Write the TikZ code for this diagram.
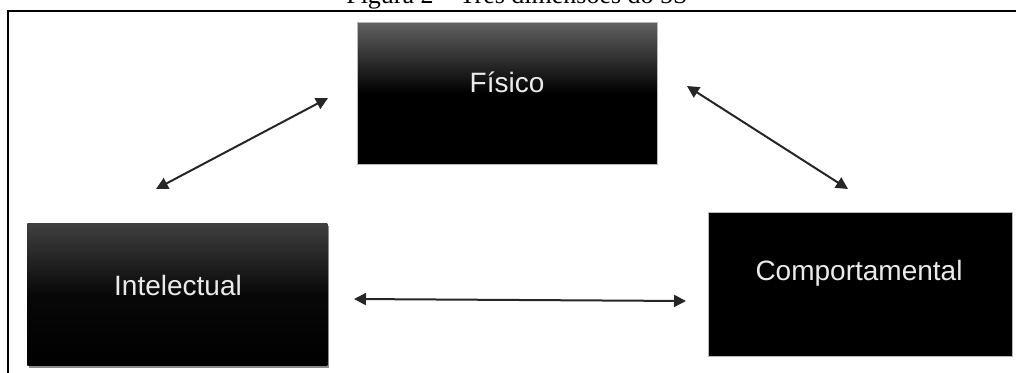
\documentclass[tikz,border=0pt]{standalone}
\usepackage{fontspec}
\setmainfont{Liberation Serif}
\newfontfamily\arialf{Liberation Sans}
\usetikzlibrary{arrows.meta,shadows}
\definecolor{arrowgray}{HTML}{262626}
\definecolor{boxedge}{HTML}{B8B8B8}
\definecolor{txtwhite}{HTML}{EAEAEA}
\begin{document}
\begin{tikzpicture}[x=1pt,y=-1pt,
  dimbox/.style={rectangle, draw=boxedge, line width=0.8pt, anchor=north west, inner sep=0pt},
  dimtext/.style={anchor=base, text=txtwhite, font=\arialf\fontsize{28}{32}\selectfont, inner sep=0pt},
  link/.style={draw=arrowgray, line width=2pt, {Triangle[length=12pt,width=12pt]}-{Triangle[length=12pt,width=12pt]}},
  frameline/.style={line width=2pt, black}
]
\useasboundingbox (0,0) rectangle (1016,372);
% title (cut off at the top, as in the reference)
\node[anchor=base, font=\fontsize{26}{30}\selectfont, inner sep=0pt] (title) at (517,4) {Figura 2 – Três dimensões do 5S};
% outer frame (only top and left edges visible)
\draw[frameline] (8,400) -- (8,11) -- (1030,11);
% boxes
\node[dimbox, minimum width=300pt, minimum height=142pt,
      top color=black!62, bottom color=black, middle color=black] (fis) at (357,22) {};
\node[dimbox, draw=none, minimum width=300pt, minimum height=142pt,
      top color=black!75, bottom color=black, middle color=black!97,
      drop shadow={shadow xshift=2pt, shadow yshift=-3pt, opacity=0.45, fill=black}] (int) at (27,223) {};
\node[dimbox, minimum width=304pt, minimum height=144pt, fill=black] (com) at (708,212) {};
% texts
\node[dimtext] (fist) at (507,92) {Físico};
\node[dimtext] (intt) at (178,295) {Intelectual};
\node[dimtext] (comt) at (859,280) {Comportamental};
% connector ends
\coordinate (a1) at (156,189);
\coordinate (a2) at (328,98);
\coordinate (b1) at (687,86);
\coordinate (b2) at (848,189);
\coordinate (c1) at (354,299);
\coordinate (c2) at (686,301);
\draw[link] (a1) -- (a2);
\draw[link] (b1) -- (b2);
\draw[link] (c1) -- (c2);
\end{tikzpicture}
\end{document}
